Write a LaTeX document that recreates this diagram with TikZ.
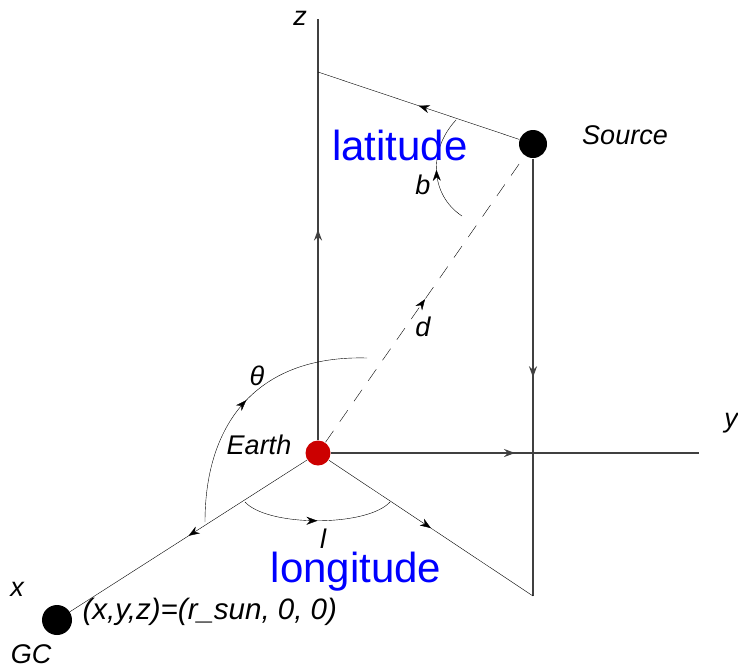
\documentclass[tikz,border=0pt]{standalone}
\usepackage{fontspec}
\setmainfont{Liberation Sans}
\usetikzlibrary{arrows.meta,decorations.markings,backgrounds}
\begin{document}
\begin{tikzpicture}[x=1pt,y=-1pt,line width=1.2pt,
  lbl/.style={font=\fontsize{27}{30}\selectfont\itshape, inner sep=0pt},
  big/.style={font=\fontsize{42}{46}\selectfont, text=blue, inner sep=0pt},
  dot/.style={circle, fill=black, inner sep=0pt},
  earth/.style={circle, fill={rgb,255:red,204;green,0;blue,0}, inner sep=0pt, minimum size=25pt},
  midarrow/.style={postaction={decorate}, decoration={markings,
     mark=at position 0.5 with {\arrow{Stealth[length=11pt,width=8pt]}}}},
  axis/.style={draw=black!75, line width=1.4pt}]
\useasboundingbox (0,0) rectangle (738,670);
% points
\node[earth] (E) at (318,453) {};
\node[dot, minimum size=28pt] (S) at (533,144) {};
\node[dot, minimum size=30pt] (G) at (57,620) {};
\coordinate (ztop) at (318,19);
\coordinate (zfoot) at (318,72);
\coordinate (yend) at (699,453);
\coordinate (P) at (533,596);
% arc ends
\coordinate (th1) at (205,522);
\coordinate (th2) at (367,358);
\coordinate (lo1) at (245,502);
\coordinate (lo2) at (390,502);
\coordinate (la1) at (462,216);
\coordinate (la2) at (456,120);
\begin{scope}[on background layer]
  \draw[axis, midarrow] (E) -- (ztop);
  \draw[axis, midarrow] (E) -- (yend);
  \draw[midarrow] (E) -- (G);
  \draw[midarrow] (S) -- (zfoot);
  \draw[axis, midarrow] (S) -- (P);
  \draw[midarrow] (E) -- (P);
  \draw[midarrow, dash pattern=on 14pt off 11pt] (E) -- (S);
  \draw[midarrow] (th1) .. controls (205,420) and (260,355) .. (th2);
  \draw[midarrow] (lo1) .. controls (268,527) and (367,527) .. (lo2);
  \draw[midarrow] (la1) .. controls (430,195) and (428,150) .. (la2);
\end{scope}
% labels
\node[lbl] (zl) at (300,18) {z};
\node[lbl] (yl) at (731,423) {y};
\node[lbl] (xl) at (17,589) {x};
\node[lbl] (gcl) at (31,654) {GC};
\node[lbl, anchor=west, font=\fontsize{29.5}{32}\selectfont\itshape] (coordl) at (82,612) {(x,y,z)=(r\_sun, 0, 0)};
\node[lbl] (srcl) at (625,135) {Source};
\node[lbl] (earthl) at (259,445) {Earth};
\node[lbl] (thl) at (257,376) {θ};
\node[lbl] (bl) at (423,185) {b};
\node[lbl] (dl) at (423,327) {d};
\node[lbl] (ll) at (323,539) {l};
\node[big, anchor=base] (lat) at (400,160) {latitude};
\node[big, anchor=base] (lon) at (356,582) {longitude};
\end{tikzpicture}
\end{document}
